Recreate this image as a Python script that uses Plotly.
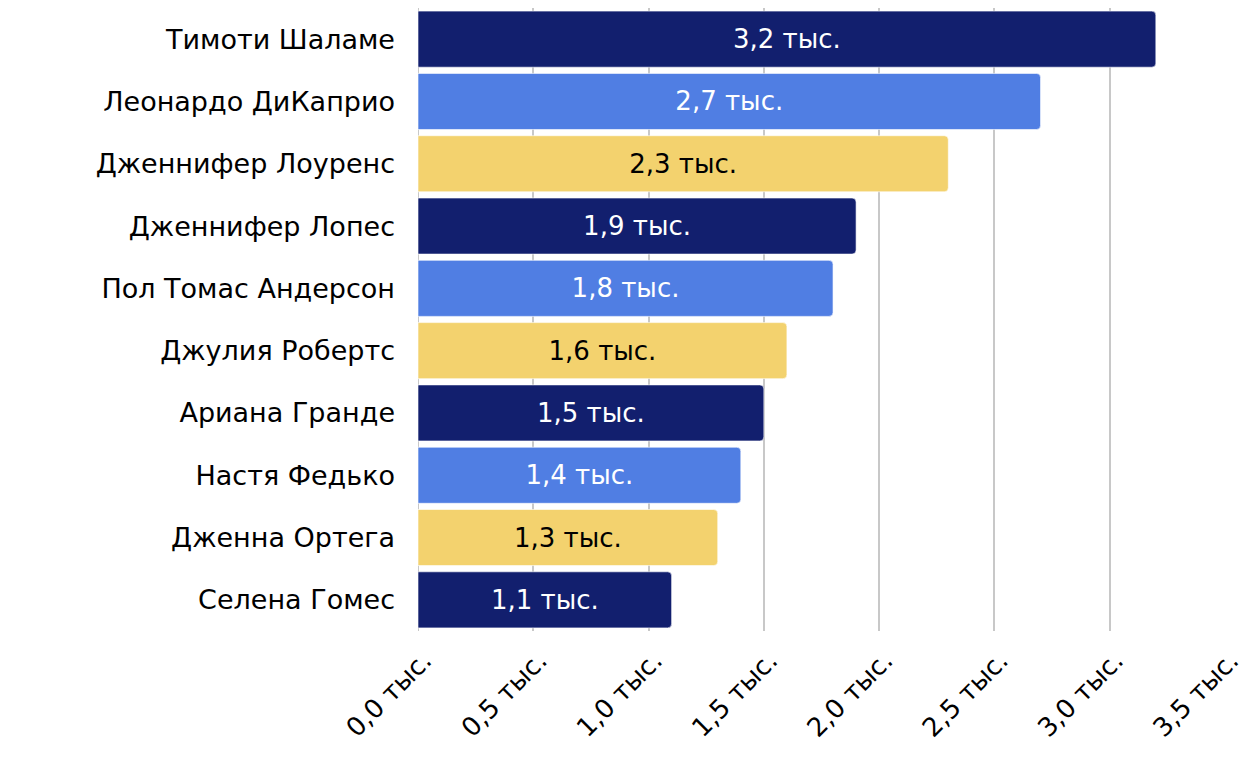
import plotly.graph_objects as go

names = ["Тимоти Шаламе", "Леонардо ДиКаприо", "Дженнифер Лоуренс", "Дженнифер Лопес",
         "Пол Томас Андерсон", "Джулия Робертс", "Ариана Гранде", "Настя Федько",
         "Дженна Ортега", "Селена Гомес"]
values = [3.2, 2.7, 2.3, 1.9, 1.8, 1.6, 1.5, 1.4, 1.3, 1.1]  # тыс.
palette = ["#121F6E", "#507EE3", "#F3D26E"]
text_palette = ["white", "white", "black"]

bar_colors = [palette[i % 3] for i in range(len(names))]
text_colors = [text_palette[i % 3] for i in range(len(names))]

FONT = "DejaVu Sans"

fig = go.Figure(go.Bar(
    x=values, y=names, orientation="h",
    marker=dict(color=bar_colors, cornerradius=4,
                line=dict(color="rgba(255,255,255,0.6)", width=1)),
    texttemplate="%{x:.1f} тыс.", textposition="inside", insidetextanchor="middle",
    textfont=dict(family=FONT, size=26, color=text_colors),
    hoverinfo="skip",
))

# page has an 8px body margin, so offsets are shifted by 8
fig.update_layout(
    width=1258, height=766,
    margin=dict(l=410, r=41, t=0, b=143),
    plot_bgcolor="white", paper_bgcolor="white",
    separators=", ",
    bargap=0.1,
    showlegend=False,
    font=dict(family=FONT, color="black"),
    uniformtext=dict(mode="show", minsize=10),
)
fig.update_xaxes(range=[0, 3.5], dtick=0.5, tickformat=".1f", ticksuffix=" тыс.",
                 tickangle=-45, tickfont=dict(size=26), showgrid=True,
                 gridcolor="#C8C8C8", gridwidth=2, zeroline=True,
                 zerolinecolor="#C8C8C8", zerolinewidth=1, automargin=False,
                 ticklabelstandoff=8, ticklabelshift=6)
fig.update_yaxes(autorange="reversed", tickfont=dict(size=27), ticks="", ticklen=0,
                 ticklabelstandoff=22, showgrid=False, automargin=False)

fig.write_html("out.html")
